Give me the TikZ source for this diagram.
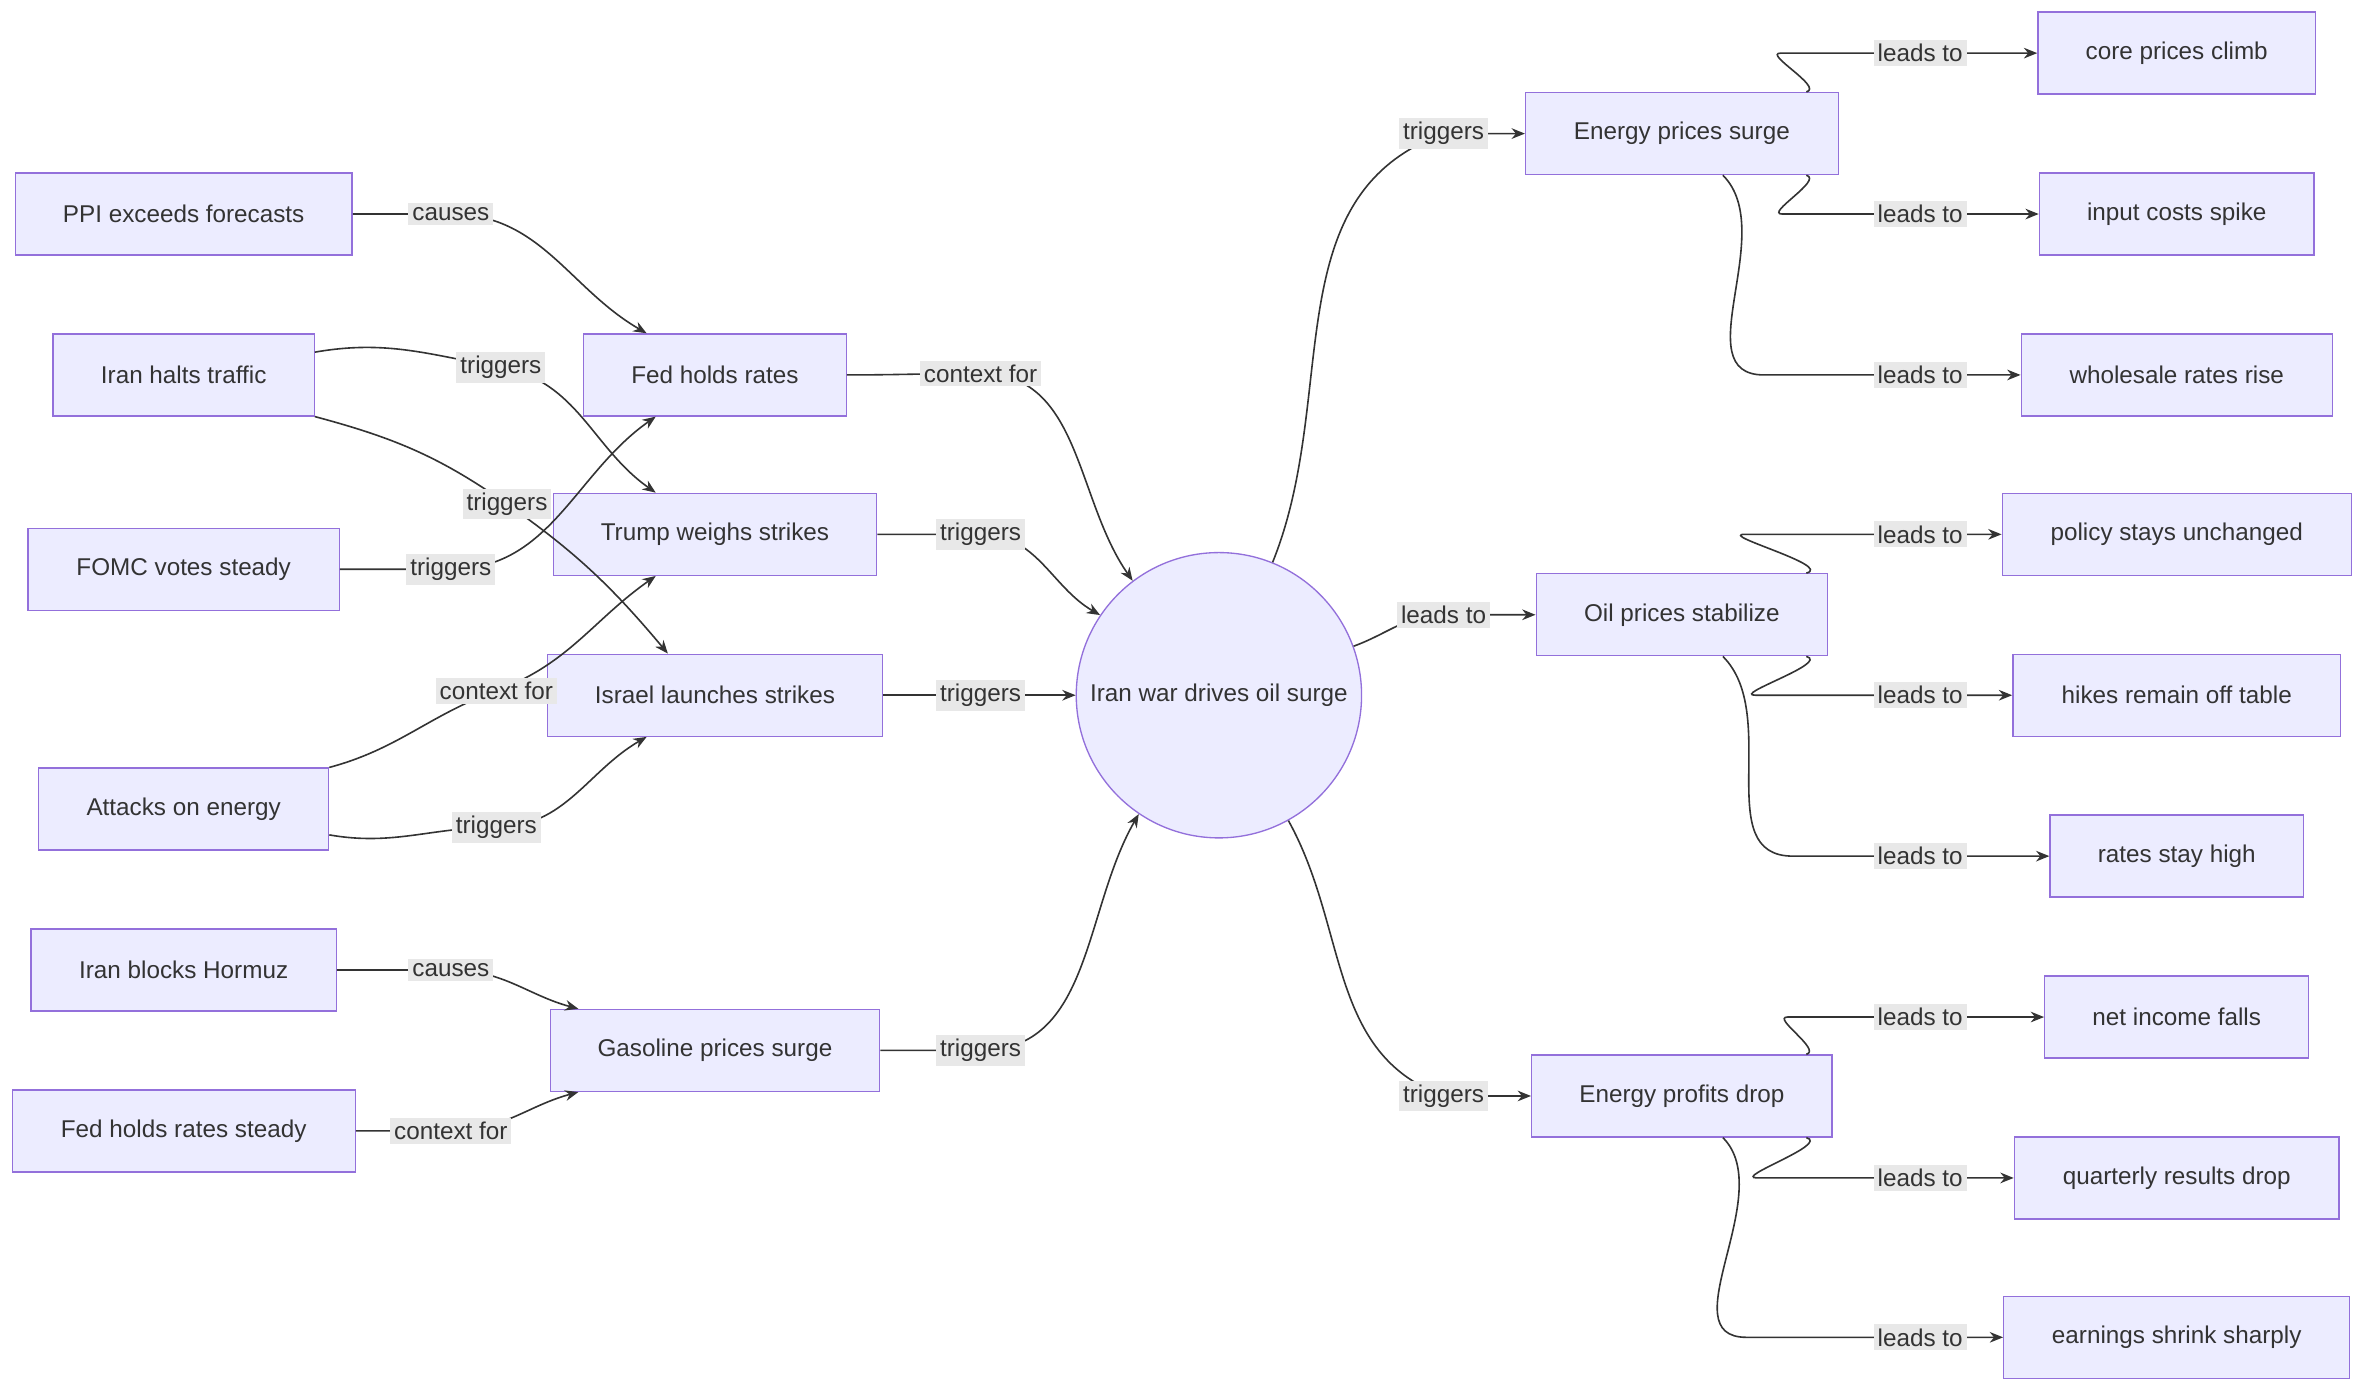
\documentclass[tikz,border=0pt]{standalone}
\usepackage{fontspec}
\setmainfont{Liberation Sans}
\usetikzlibrary{positioning,calc,arrows.meta}
\definecolor{boxfill}{HTML}{ECECFF}
\definecolor{boxline}{HTML}{9370DB}
\definecolor{ink}{HTML}{333333}
\definecolor{lblfill}{HTML}{E8E8E8}
\begin{document}
\begin{tikzpicture}[x=0.02cm,y=-0.02cm,
  font=\fontsize{9.1}{11}\selectfont, text=ink,
  box/.style={draw=boxline, fill=boxfill, line width=0.5pt, minimum height=1.08cm, inner sep=0pt},
  hub/.style={circle, draw=boxline, fill=boxfill, line width=0.5pt, minimum size=3.76cm, inner sep=0pt},
  lbl/.style={fill=lblfill, inner sep=1.5pt},
  edge/.style={draw=ink, line width=0.6pt, -{Stealth[length=5pt,width=4pt]}}]

  % --- canvas ---
  \useasboundingbox[fill=white] (0,0) rectangle (1560,920);

  % --- left column: causes ---
  \node[box, minimum width=4.44cm] (ppi)    at (121,141) {PPI exceeds forecasts};
  \node[box, minimum width=3.44cm] (halts)  at (121,247) {Iran halts traffic};
  \node[box, minimum width=4.10cm] (fomc)   at (121,375) {FOMC votes steady};
  \node[box, minimum width=3.82cm] (attack) at (121,533) {Attacks on energy};
  \node[box, minimum width=4.02cm] (hormuz) at (121,639) {Iran blocks Hormuz};
  \node[box, minimum width=4.52cm] (steady) at (121,745) {Fed holds rates steady};

  % --- middle column ---
  \node[box, minimum width=3.46cm] (fed)    at (471,247) {Fed holds rates};
  \node[box, minimum width=4.26cm] (trump)  at (471,352) {Trump weighs strikes};
  \node[box, minimum width=4.42cm] (israel) at (471,458) {Israel launches strikes};
  \node[box, minimum width=4.34cm] (gas)    at (471,692) {Gasoline prices surge};

  % --- hub ---
  \node[hub] (war) at (803,458) {Iran war drives oil surge};

  % --- right-middle column ---
  \node[box, minimum width=4.12cm] (energy) at (1108,88)  {Energy prices surge};
  \node[box, minimum width=3.84cm] (oil)    at (1108,405) {Oil prices stabilize};
  \node[box, minimum width=3.96cm] (profit) at (1108,722) {Energy profits drop};

  % --- right column: effects ---
  \node[box, minimum width=3.66cm] (core)   at (1434,35)  {core prices climb};
  \node[box, minimum width=3.62cm] (input)  at (1434,141) {input costs spike};
  \node[box, minimum width=4.10cm] (whole)  at (1434,247) {wholesale rates rise};
  \node[box, minimum width=4.60cm] (policy) at (1434,352) {policy stays unchanged};
  \node[box, minimum width=4.32cm] (hikes)  at (1434,458) {hikes remain off table};
  \node[box, minimum width=3.34cm] (high)   at (1434,564) {rates stay high};
  \node[box, minimum width=3.48cm] (income) at (1434,670) {net income falls};
  \node[box, minimum width=4.28cm] (qtr)    at (1434,776) {quarterly results drop};
  \node[box, minimum width=4.56cm] (shrink) at (1434,881) {earnings shrink sharply};

  % --- label anchors ---
  \coordinate (l1) at (297,141);  \coordinate (l2) at (330,242);
  \coordinate (l3) at (334,332);  \coordinate (l4) at (297,375);
  \coordinate (l5) at (327,455);  \coordinate (l6) at (327,545);
  \coordinate (l7) at (297,639);  \coordinate (l8) at (297,745);
  \coordinate (m1) at (646,246);  \coordinate (m2) at (646,352);
  \coordinate (m3) at (646,458);  \coordinate (m4) at (646,692);
  \coordinate (r1) at (951,88);   \coordinate (r2) at (951,405);
  \coordinate (r3) at (951,722);

  % --- edges into the middle column ---
  \draw[edge] (ppi.east) to[out=0,in=180] (l1) to[out=0,in=150] ($(fed.north)+(-45,0)$);
  \draw[edge] ($(halts.east)+(0,-15)$) to[out=10,in=170] (l2) to[out=-10,in=145] ($(trump.north)+(-39,0)$);
  \draw[edge] (halts.south east) to[out=-15,in=145] (l3) to[out=-35,in=130] ($(israel.north)+(-31,0)$);
  \draw[edge] (fomc.east) to[out=0,in=180] (l4) to[out=0,in=-145] ($(fed.south)+(-39,0)$);
  \draw[edge] (attack.north east) to[out=15,in=-160] (l5) to[out=20,in=-145] ($(trump.south)+(-39,0)$);
  \draw[edge] ($(attack.east)+(0,17)$) to[out=-10,in=180] (l6) to[out=0,in=-150] ($(israel.south)+(-45,0)$);
  \draw[edge] (hormuz.east) to[out=0,in=180] (l7) to[out=0,in=165] ($(gas.north)+(-90,0)$);
  \draw[edge] (steady.east) to[out=0,in=180] (l8) to[out=0,in=-165] ($(gas.south)+(-90,0)$);

  % --- edges into the hub ---
  \draw[edge] (fed.east) to[out=0,in=180] (m1) to[out=0,in=125] (war.127);
  \draw[edge] (trump.east) to[out=0,in=180] (m2) to[out=0,in=150] (war.146);
  \draw[edge] (israel.east) -- (m3) -- (war.west);
  \draw[edge] (gas.east) to[out=0,in=180] (m4) to[out=0,in=-120] (war.-124);

  % --- edges out of the hub ---
  \draw[edge] (war.68) to[out=68,in=200] (r1) to[out=0,in=180] (energy.west);
  \draw[edge] (war.20) to[out=20,in=180] (r2) to[out=0,in=180] (oil.west);
  \draw[edge] (war.-61) to[out=-61,in=160] (r3) to[out=0,in=180] (profit.west);

  % --- edges to the effects ---
  \foreach \src/\a/\b/\c in {energy/core/input/whole, oil/policy/hikes/high, profit/income/qtr/shrink} {
    \draw[edge] ($(\src.north)+(82,0)$) to[out=15,in=180] ($(\a.west)+(-169,0)$) to[out=0,in=180] (\a.west);
    \draw[edge] ($(\src.south)+(82,0)$) to[out=-15,in=180] ($(\b.west)+(-169,0)$) to[out=0,in=180] (\b.west);
    \draw[edge] ($(\src.south)+(27,0)$) to[out=-45,in=180] ($(\c.west)+(-169,0)$) to[out=0,in=180] (\c.west);
  }

  % --- edge labels ---
  \node[lbl] at (l1) {causes};      \node[lbl] at (l2) {triggers};
  \node[lbl] at (l3) {triggers};    \node[lbl] at (l4) {triggers};
  \node[lbl] at (l5) {context for}; \node[lbl] at (l6) {triggers};
  \node[lbl] at (l7) {causes};      \node[lbl] at (l8) {context for};
  \node[lbl] at (m1) {context for}; \node[lbl] at (m2) {triggers};
  \node[lbl] at (m3) {triggers};    \node[lbl] at (m4) {triggers};
  \node[lbl] at (r1) {triggers};    \node[lbl] at (r2) {leads to};
  \node[lbl] at (r3) {triggers};
  \foreach \y in {35,141,247,352,458,564,670,776,881}
    \node[lbl] at (1265,\y) {leads to};

\end{tikzpicture}
\end{document}
